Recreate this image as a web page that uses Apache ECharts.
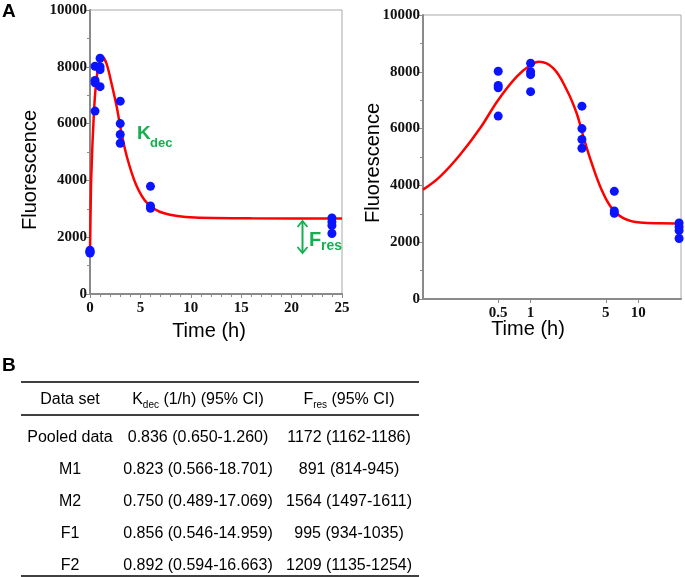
<!DOCTYPE html>
<html><head><meta charset="utf-8">
<script src="https://cdn.jsdelivr.net/npm/echarts@6/dist/echarts.min.js"></script>
<style>html,body{margin:0;padding:0;background:#fff}#c{width:685px;height:577px}</style>
</head><body><div id="c"></div>
<script>
// ---- data ----
const dotTime  = [0, 0, 0, 0, 0.5, 0.5, 0.5, 0.5, 1, 1, 1, 1, 3, 3, 3, 3, 6, 6, 6, 24, 24, 24, 24];
const dotFluor = [1540, 1500, 1470, 1440, 8020, 7520, 7440, 6440, 8300, 8000, 7900, 7300, 6790, 6000, 5615, 5310, 3790, 3100, 3020, 2680, 2540, 2410, 2130];
const curveTime  = [0, 0.1, 0.144, 0.221, 0.339, 0.5, 0.743, 1.0, 1.2, 1.63, 2.17, 2.68, 3.09, 3.7, 4.58, 5.67, 7.28, 10.4, 16, 25];
const curveFluor = [1480, 3850, 4310, 5080, 6010, 7010, 7830, 8240, 8350, 8120, 7360, 6540, 5720, 4780, 3840, 3200, 2850, 2690, 2665, 2660];
const yTickValues = [0, 2000, 4000, 6000, 8000, 10000];
const xTickLinear = [0, 5, 10, 15, 20, 25];
const xTickLog = [0.5, 1, 5, 10];
const tableSets = ['Pooled data', 'M1', 'M2', 'F1', 'F2'];
const tableKdec = ['0.836 (0.650-1.260)', '0.823 (0.566-18.701)', '0.750 (0.489-17.069)', '0.856 (0.546-14.959)', '0.892 (0.594-16.663)'];
const tableFres = ['1172 (1162-1186)', '891 (814-945)', '1564 (1497-1611)', '995 (934-1035)', '1209 (1135-1254)'];

// ---- build ----
const dots = dotTime.map((t, i) => [t, dotFluor[i]]);
const dotsLog = dots.filter(d => d[0] > 0);
const curve = curveTime.map((t, i) => [t, curveFluor[i]]);
const curveLog = curve.filter(d => d[0] > 0);

const GRAY = '#8a8a8a';
const tickFont = {fontFamily: 'Liberation Serif', fontWeight: 'bold', fontSize: 15, color: '#111'};
const GREEN = '#14b050';
const plain = v => String(+(+v).toPrecision(6));

function yAxisCfg(grid) {
  return {
    type: 'value', gridIndex: grid, min: yTickValues[0], max: yTickValues[yTickValues.length - 1],
    interval: yTickValues[1] - yTickValues[0],
    axisLine: {show: true, lineStyle: {color: GRAY, width: 2}},
    axisTick: {show: true, length: 4, lineStyle: {color: GRAY, width: 1}},
    minorTick: {show: true, splitNumber: 2, length: 3, lineStyle: {color: GRAY}},
    splitLine: {show: false},
    axisLabel: Object.assign({margin: 3, formatter: plain}, tickFont)
  };
}

const chart = echarts.init(document.getElementById('c'), null, {renderer: 'canvas'});

const graphics = [];
function txt(x, y, text, style, extra) {
  graphics.push(Object.assign({type: 'text', x: x, y: y, style: Object.assign({text: text, fill: '#000', fontFamily: 'Liberation Sans', fontSize: 16, textAlign: 'center', textVerticalAlign: 'middle'}, style)}, extra || {}));
}
function hline(x1, x2, y, w) {
  graphics.push({type: 'line', shape: {x1: x1, y1: y, x2: x2, y2: y}, style: {stroke: '#000', lineWidth: w || 1.3}});
}
// panel letters
txt(2, 12, 'A', {fontSize: 19, fontWeight: 'bold', textAlign: 'left'});
txt(2, 366, 'B', {fontSize: 19, fontWeight: 'bold', textAlign: 'left'});
// axis titles
txt(30, 170, 'Fluorescence', {fontSize: 20}, {rotation: Math.PI / 2});
txt(373, 163, 'Fluorescence', {fontSize: 20}, {rotation: Math.PI / 2});
txt(209, 331, 'Time (h)', {fontSize: 20});
txt(528, 329, 'Time (h)', {fontSize: 20});
// annotations
txt(137, 134, 'K', {fontSize: 19, fontWeight: 'bold', fill: GREEN, textAlign: 'left'});
txt(150, 143, 'dec', {fontSize: 13, fontWeight: 'bold', fill: GREEN, textAlign: 'left'});
txt(309, 240, 'F', {fontSize: 20, fontWeight: 'bold', fill: GREEN, textAlign: 'left'});
txt(321, 246, 'res', {fontSize: 14, fontWeight: 'bold', fill: GREEN, textAlign: 'left'});
graphics.push({type: 'polyline', shape: {points: [[302.5, 221], [302.5, 253]]}, style: {stroke: GREEN, lineWidth: 2, fill: null}});
graphics.push({type: 'polyline', shape: {points: [[297.5, 227], [302.5, 221], [307.5, 227]]}, style: {stroke: GREEN, lineWidth: 1.8, fill: null}});
graphics.push({type: 'polyline', shape: {points: [[297.5, 247], [302.5, 253], [307.5, 247]]}, style: {stroke: GREEN, lineWidth: 1.8, fill: null}});

// table
const colX = [70, 198, 349];
hline(21, 419, 382, 1.5);
hline(21, 419, 415, 1.5);
hline(21, 419, 576, 1.5);
txt(colX[0], 400, 'Data set', {});
const richSub = {a: {fontFamily: 'Liberation Sans', fontSize: 16, lineHeight: 20}, b: {fontFamily: 'Liberation Sans', fontSize: 10, lineHeight: 12, verticalAlign: 'bottom'}};
graphics.push({type: 'text', x: colX[1], y: 400, style: {
  text: '{a|K}{b|dec}{a| (1/h) (95% CI)}', textAlign: 'center', textVerticalAlign: 'middle', fill: '#000', rich: richSub}});
graphics.push({type: 'text', x: colX[2], y: 400, style: {
  text: '{a|F}{b|res}{a| (95% CI)}', textAlign: 'center', textVerticalAlign: 'middle', fill: '#000', rich: richSub}});
const rowY = [438, 470, 502, 534, 566];
tableSets.forEach((s, i) => {
  txt(colX[0], rowY[i], s, {});
  txt(colX[1], rowY[i], tableKdec[i], {});
  txt(colX[2], rowY[i], tableFres[i], {});
});

const option = {
  backgroundColor: '#fff',
  animation: false,
  grid: [
    {left: 90, top: 10, width: 252, height: 284, show: true, borderColor: '#a8a8a8', borderWidth: 1},
    {left: 423, top: 15, width: 258, height: 284, show: true, borderColor: '#a8a8a8', borderWidth: 1}
  ],
  xAxis: [
    {
      type: 'value', gridIndex: 0, min: xTickLinear[0], max: xTickLinear[xTickLinear.length - 1],
      interval: xTickLinear[1] - xTickLinear[0],
      axisLine: {show: true, lineStyle: {color: GRAY, width: 2}},
      axisTick: {show: true, length: 4, lineStyle: {color: GRAY}},
      minorTick: {show: true, splitNumber: 5, length: 3, lineStyle: {color: GRAY}},
      splitLine: {show: false},
      axisLabel: Object.assign({margin: 7, formatter: plain}, tickFont)
    },
    {
      type: 'log', logBase: 10, gridIndex: 1, min: 0.1, max: 25,
      axisLine: {show: true, lineStyle: {color: GRAY, width: 2}},
      axisTick: {show: true, length: 4, customValues: xTickLog, lineStyle: {color: GRAY}},
      minorTick: {show: false},
      splitLine: {show: false},
      axisLabel: Object.assign({margin: 7, customValues: xTickLog, formatter: v => String(+(+v).toPrecision(3))}, tickFont)
    }
  ],
  yAxis: [yAxisCfg(0), yAxisCfg(1)],
  series: [
    {type: 'line', xAxisIndex: 0, yAxisIndex: 0, data: curve, smooth: 0.3, showSymbol: false, symbol: 'none',
     lineStyle: {color: '#ff0000', width: 2.5}, z: 2},
    {type: 'scatter', xAxisIndex: 0, yAxisIndex: 0, data: dots, symbolSize: 9, itemStyle: {color: '#0a14ff', opacity: 1}, z: 3},
    {type: 'line', xAxisIndex: 1, yAxisIndex: 1, data: curveLog, smooth: 0.4, showSymbol: false, symbol: 'none',
     lineStyle: {color: '#ff0000', width: 2.5}, z: 2},
    {type: 'scatter', xAxisIndex: 1, yAxisIndex: 1, data: dotsLog, symbolSize: 9, itemStyle: {color: '#0a14ff', opacity: 1}, z: 3}
  ],
  graphic: graphics
};
chart.setOption(option);
</script>
</body></html>
